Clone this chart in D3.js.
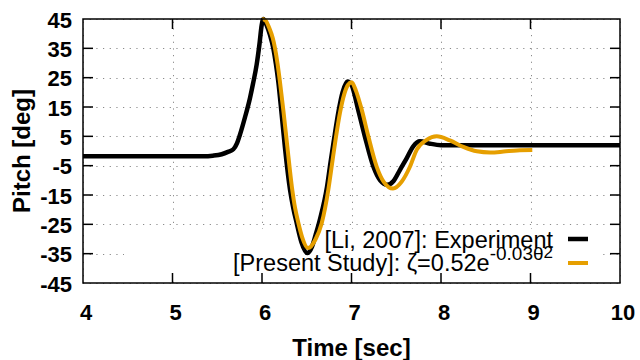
<!DOCTYPE html>
<html>
<head>
<meta charset="utf-8">
<script src="https://cdn.jsdelivr.net/npm/d3@7"></script>
<style>
  body { margin: 0; background: #fff; }
  svg { display: block; font-family: "Liberation Sans", Arial, sans-serif; }
</style>
</head>
<body>
<div id="chart"></div>
<script>
// experiment (black)
const timeExp = [4.0, 5.0, 5.35, 5.45, 5.55, 5.62, 5.68, 5.72, 5.754, 5.81, 5.866, 5.90, 5.94, 5.97, 5.997, 6.015,
  6.05, 6.09, 6.126, 6.155, 6.182, 6.22, 6.257, 6.313, 6.35, 6.388, 6.44, 6.506, 6.56, 6.60, 6.65, 6.725, 6.765,
  6.80, 6.855, 6.90, 6.955, 7.00, 7.074, 7.149, 7.244, 7.32, 7.40, 7.47, 7.542, 7.616, 7.69, 7.765, 7.877, 8.0, 10.0];
const pitchExp = [-1.8, -1.8, -1.8, -1.6, -1.1, -0.3, 0.6, 2.6, 5.6, 11.5, 18.1, 23, 29.4, 36, 43, 45,
  43, 39.5, 35.1, 29.8, 23.7, 12.4, 1.0, -13.2, -19.5, -24.6, -31, -34.8, -32.5, -28.5, -23, -12.5, -4,
  3, 13.5, 20, 23.7, 22.5, 14.1, 5.0, -5.3, -10, -11.5, -10.2, -6.4, -2.5, 1.6, 3.3, 2.5, 2.0, 2.0];

// present study (orange)
const timeSim = [6.00, 6.04, 6.08, 6.12, 6.145, 6.175, 6.20, 6.24, 6.283, 6.335, 6.37, 6.407, 6.45, 6.514, 6.60,
  6.667, 6.741, 6.782, 6.82, 6.871, 6.92, 6.96, 7.002, 7.05, 7.114, 7.188, 7.281, 7.36, 7.464, 7.56, 7.654,
  7.728, 7.84, 7.952, 8.10, 8.249, 8.40, 8.55, 8.70, 8.85, 9.02];
const pitchSim = [45.0, 44.5, 42.0, 38.5, 35.1, 29.5, 23.7, 13.5, 1.5, -12.5, -19.5, -24.6, -29.5, -33.1, -30.0,
  -24.6, -13.2, -4.5, 3.5, 13.0, 19.5, 22.5, 23.4, 20.5, 14.1, 5.0, -5.3, -10.5, -12.8, -10.5, -5.3,
  0.4, 3.8, 5.0, 3.6, 1.4, -0.1, -0.5, -0.2, 0.2, 0.3];

const xTicks = [4, 5, 6, 7, 8, 9, 10];
const yTicks = [-45, -35, -25, -15, -5, 5, 15, 25, 35, 45];

const W = 640, H = 360;
const pL = 83, pR = 620, pT = 19, pB = 283;

const svg = d3.select("#chart").append("svg")
  .attr("width", W).attr("height", H);

const x = d3.scaleLinear().domain([4, 10]).range([pL, pR]);
const y = d3.scaleLinear().domain([-45, 45]).range([pB, pT]);

// grid
const grid = svg.append("g")
  .attr("stroke", "#8a8a8a").attr("stroke-width", 1).attr("stroke-dasharray", "1.2,5.47");
grid.selectAll(".gx").data(xTicks).enter().append("line")
  .attr("x1", d => Math.round(x(d)) + 0.5).attr("x2", d => Math.round(x(d)) + 0.5)
  .attr("y1", pB).attr("y2", pT);
grid.selectAll(".gy").data(yTicks).enter().append("line")
  .attr("y1", d => Math.round(y(d)) + 0.5).attr("y2", d => Math.round(y(d)) + 0.5)
  .attr("x1", pL).attr("x2", pR);

// opaque key box
svg.append("rect").attr("x", 124).attr("y", 229).attr("width", 475).attr("height", 50).attr("fill", "#fff");

// curves
const line = d3.line().x(d => x(d[0])).y(d => y(d[1])).curve(d3.curveMonotoneX);
svg.append("path")
  .datum(d3.zip(timeExp, pitchExp))
  .attr("d", line).attr("fill", "none")
  .attr("stroke", "#000").attr("stroke-width", 4.5).attr("stroke-linejoin", "round");
svg.append("path")
  .datum(d3.zip(timeSim, pitchSim))
  .attr("d", line).attr("fill", "none")
  .attr("stroke", "#e69f00").attr("stroke-width", 4).attr("stroke-linejoin", "round");

// legend
const key = svg.append("g").attr("font-size", 23.5).attr("fill", "#000").attr("text-anchor", "end");
key.append("text").attr("x", 553).attr("y", 248).text("[Li, 2007]: Experiment");
const t2 = key.append("text").attr("x", 553).attr("y", 271);
t2.append("tspan").text("[Present Study]: ζ=0.52e");
t2.append("tspan").attr("dy", -11).attr("font-size", 19).text("-0.03θ");
t2.append("tspan").attr("dy", -2).attr("font-size", 17).text("2");
svg.append("line").attr("x1", 568).attr("x2", 588).attr("y1", 239).attr("y2", 239)
  .attr("stroke", "#000").attr("stroke-width", 4.5);
svg.append("line").attr("x1", 568).attr("x2", 588).attr("y1", 263).attr("y2", 263)
  .attr("stroke", "#e69f00").attr("stroke-width", 4);

// border and ticks (mirrored, inward)
svg.append("rect").attr("x", pL).attr("y", pT).attr("width", pR - pL).attr("height", pB - pT)
  .attr("fill", "none").attr("stroke", "#000").attr("stroke-width", 1.5);
const tk = svg.append("g").attr("stroke", "#000").attr("stroke-width", 1.5);
const tl = 10;
xTicks.slice(1, -1).forEach(d => {
  tk.append("line").attr("x1", x(d)).attr("x2", x(d)).attr("y1", pB).attr("y2", pB - tl);
  tk.append("line").attr("x1", x(d)).attr("x2", x(d)).attr("y1", pT).attr("y2", pT + tl);
});
yTicks.slice(1, -1).forEach(d => {
  tk.append("line").attr("y1", y(d)).attr("y2", y(d)).attr("x1", pL).attr("x2", pL + tl);
  tk.append("line").attr("y1", y(d)).attr("y2", y(d)).attr("x1", pR).attr("x2", pR - tl);
});

// tick labels
svg.append("g").attr("font-size", 22).attr("font-weight", "bold").attr("text-anchor", "end")
  .selectAll("text").data(yTicks).enter().append("text")
  .attr("x", 72).attr("y", d => y(d) + 8.5).text(d => d);
svg.append("g").attr("font-size", 22).attr("font-weight", "bold").attr("text-anchor", "middle")
  .selectAll("text").data(xTicks).enter().append("text")
  .attr("x", d => x(d) + 3).attr("y", 320).text(d => d);

// axis titles
svg.append("text").attr("font-size", 24).attr("font-weight", "bold").attr("text-anchor", "middle")
  .attr("x", (pL + pR) / 2).attr("y", 356).text("Time [sec]");
svg.append("text").attr("font-size", 24).attr("font-weight", "bold").attr("text-anchor", "middle")
  .attr("transform", `translate(30,${(pT + pB) / 2}) rotate(-90)`).text("Pitch [deg]");
</script>
</body>
</html>
